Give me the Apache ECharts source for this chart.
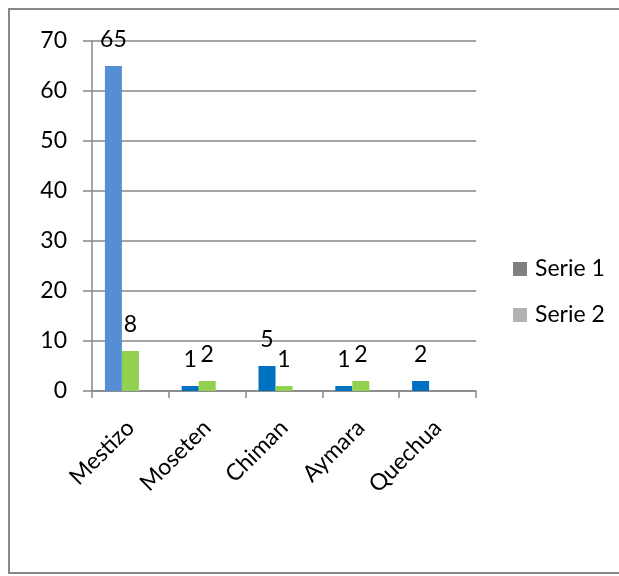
<!DOCTYPE html>
<html>
<head>
<meta charset="utf-8">
<script src="https://cdn.jsdelivr.net/npm/echarts@6/dist/echarts.min.js"></script>
<style>
  html, body { margin: 0; padding: 0; background: #ffffff; }
  #chart { width: 619px; height: 576px; }
</style>
</head>
<body>
<div id="chart"></div>
<script>
// Groups and counts
const categories = ['Mestizo', 'Moseten', 'Chiman', 'Aymara', 'Quechua'];
const serie1 = [65, 1, 5, 1, 2];
const serie2 = [8, 2, 1, 2, null];
const serie3 = [null, null, null, null, null]; // empty third slot keeps the bar layout
const yTicks = { min: 0, max: 70, interval: 10 };

const FONT = 'Lato, "Open Sans", sans-serif';
const FONT_SIZE = 23;
const GRID_GRAY = '#878787';

const chart = echarts.init(document.getElementById('chart'), null, { renderer: 'canvas' });

const labelStyle = {
  show: true,
  position: 'top',
  distance: 15,
  color: '#000',
  fontFamily: FONT,
  fontSize: FONT_SIZE
};

chart.setOption({
  animation: false,
  backgroundColor: '#ffffff',
  textStyle: { fontFamily: FONT },
  graphic: [{
    type: 'rect',
    shape: { x: 9, y: 9, width: 640, height: 564 },
    style: { fill: 'none', stroke: '#888888', lineWidth: 2 },
    silent: true,
    z: 100
  }],
  grid: { left: 92, right: 143, top: 41, bottom: 185, containLabel: false },
  legend: {
    data: [
      { name: 'Serie 1', itemStyle: { color: '#808080' } },
      { name: 'Serie 2', itemStyle: { color: '#B3B3B3' } }
    ],
    orient: 'vertical',
    left: 513,
    top: 256,
    padding: 0,
    itemWidth: 14,
    itemHeight: 14,
    itemGap: 20,
    icon: 'rect',
    textStyle: { fontFamily: FONT, fontSize: FONT_SIZE, color: '#000', lineHeight: 26, padding: [0, 0, 0, 3] }
  },
  xAxis: {
    type: 'category',
    data: categories,
    boundaryGap: true,
    axisLine: { show: true, lineStyle: { color: GRID_GRAY, width: 1.5 } },
    axisTick: { show: true, length: 7, alignWithLabel: false, lineStyle: { color: GRID_GRAY, width: 1.5 } },
    axisLabel: {
      rotate: 45,
      interval: 0,
      margin: 33,
      color: '#000',
      fontFamily: FONT,
      fontSize: FONT_SIZE
    }
  },
  yAxis: {
    type: 'value',
    min: yTicks.min,
    max: yTicks.max,
    interval: yTicks.interval,
    axisLine: { show: true, lineStyle: { color: GRID_GRAY, width: 1.5 } },
    axisTick: { show: true, length: 9, lineStyle: { color: GRID_GRAY, width: 1.5 } },
    splitLine: { show: true, lineStyle: { color: GRID_GRAY, width: 1.5 } },
    axisLabel: {
      margin: 25,
      color: '#000',
      fontFamily: FONT,
      fontSize: FONT_SIZE
    }
  },
  series: [
    {
      name: 'Serie 1',
      type: 'bar',
      data: serie1,
      barGap: '0%',
      barCategoryGap: '33.6%',
      itemStyle: {
        color: (p) => p.dataIndex === 0 ? '#558ED5' : '#0070C0'
      },
      label: labelStyle
    },
    {
      name: 'Serie 2',
      type: 'bar',
      data: serie2,
      itemStyle: { color: '#92D050' },
      label: labelStyle
    },
    {
      name: 'Serie 3',
      type: 'bar',
      data: serie3,
      itemStyle: { color: '#B3B3B3' }
    }
  ]
});
</script>
</body>
</html>
